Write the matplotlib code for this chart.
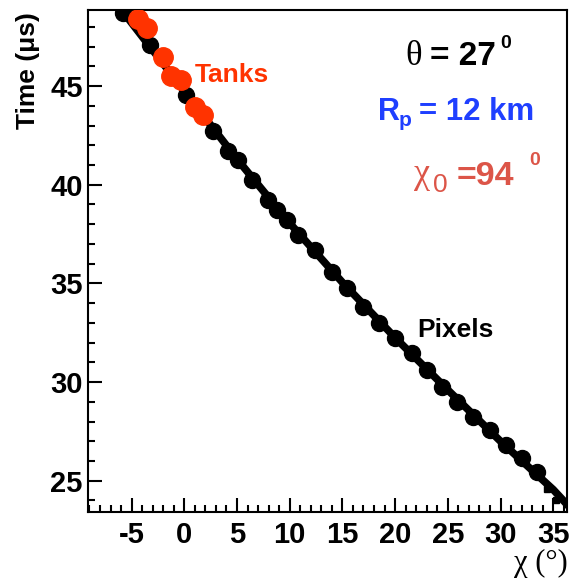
import matplotlib
matplotlib.use("Agg")
import matplotlib.pyplot as plt
from matplotlib.ticker import MultipleLocator

# ---- data ----
pix_chi = [-5.82, -3.25, 0.16, 2.72, 4.14, 5.09, 6.42, 7.94, 8.80, 9.74, 10.79,
           12.40, 14.01, 15.44, 16.96, 18.48, 20.00, 21.61, 23.03, 24.45, 25.88,
           27.40, 29.01, 30.53, 32.05, 33.48]
pix_time = [48.70, 47.08, 44.54, 42.72, 41.71, 41.25, 40.24, 39.22, 38.72, 38.22,
            37.45, 36.69, 35.58, 34.77, 33.80, 32.99, 32.23, 31.47, 30.61, 29.75,
            28.99, 28.23, 27.57, 26.81, 26.15, 25.45]
small_chi = [34.4, 35.3]
small_time = [24.6, 24.0]
tank_chi = [-4.42, -3.57, -2.05, -1.29, -0.34, 1.02, 1.77]
tank_time = [48.39, 47.94, 46.47, 45.51, 45.30, 43.94, 43.53]
fit_chi = [-7, -5, 0, 5, 10, 15, 20, 25, 30, 35, 37]
fit_time = [49.6, 48.2, 44.75, 41.3, 38.05, 35.05, 32.25, 29.6, 27.0, 24.55, 23.4]
xticks = [-5, 0, 5, 10, 15, 20, 25, 30, 35]
yticks = [25, 30, 35, 40, 45]

W, H = 569, 580
fig = plt.figure(figsize=(W / 100, H / 100), dpi=100)
L, R, T, B = 88.3, 566.7, 9.5, 512.3
ax = fig.add_axes([L / W, 1 - B / H, (R - L) / W, (B - T) / H])

SANS = "Liberation Sans"
SERIF = "Liberation Serif"

ax.plot(fit_chi, fit_time, color="black", lw=5.5, solid_capstyle="butt", zorder=2)
ax.plot(pix_chi, pix_time, "o", color="black", ms=11.5, mec="black", zorder=3)
ax.plot(small_chi, small_time, "s", color="black", ms=5, zorder=3)
ax.plot(tank_chi, tank_time, "o", color="#ff3300", ms=14, mec="#ff3300", zorder=4)

ax.set_xlim(-9.11, 36.28)
ax.set_ylim(23.40, 48.88)
ax.set_xticks(xticks)
ax.set_yticks(yticks)
ax.set_xticklabels([str(v) for v in xticks])
ax.set_yticklabels([str(v) for v in yticks])
ax.xaxis.set_minor_locator(MultipleLocator(1))
ax.yaxis.set_minor_locator(MultipleLocator(1))
ax.tick_params(which="both", direction="in", top=False, right=False, width=1.5)
ax.tick_params(which="major", length=10)
ax.tick_params(which="minor", length=5)
ax.tick_params(axis="x", pad=6)
ax.tick_params(axis="y", pad=4)
for lab in ax.get_xticklabels() + ax.get_yticklabels():
    lab.set_fontfamily(SANS)
    lab.set_fontweight("bold")
    lab.set_fontsize(21)
for s in ax.spines.values():
    s.set_linewidth(1.5)


def ftext(px, py, s, **kw):
    fig.text(px / W, 1 - py / H, s, va="baseline", ha="left", **kw)


# axis titles
fig.text(28 / W, 1 - 12 / H, "Time (μs)", rotation=90, ha="center", va="top",
         fontsize=19, fontweight="bold", family=SANS)
fig.text(568 / W, 1 - 571 / H, "χ (°)", ha="right", va="baseline", fontsize=22,
         family=SERIF)

# annotations
ftext(405, 65, "θ", fontsize=25, family=SERIF, color="black")
ftext(430, 65, "= 27", fontsize=24, family=SANS, fontweight="bold", color="black")
ftext(500, 48, "0", fontsize=14, family=SANS, fontweight="bold", color="black")

blue = "#1f3fff"
ftext(378, 120, "R", fontsize=22, family=SANS, fontweight="bold", color=blue)
ftext(399, 126, "p", fontsize=15, family=SANS, fontweight="bold", color=blue)
ftext(419, 120, "= 12 km", fontsize=22.5, family=SANS, fontweight="bold", color=blue)

sal = "#dc5548"
ftext(414, 183, "χ", fontsize=26, family=SERIF, color=sal)
ftext(433, 192, "0", fontsize=19, family=SANS, color=sal)
ftext(457, 185, "=94", fontsize=24.5, family=SANS, fontweight="bold", color=sal)
ftext(529, 165, "0", fontsize=14, family=SANS, fontweight="bold", color=sal)

ftext(195, 82, "Tanks", fontsize=19, family=SANS, fontweight="bold", color="#ff3300")
ftext(417, 337, "Pixels", fontsize=19, family=SANS, fontweight="bold", color="black")

fig.savefig("out.png", dpi=100)
